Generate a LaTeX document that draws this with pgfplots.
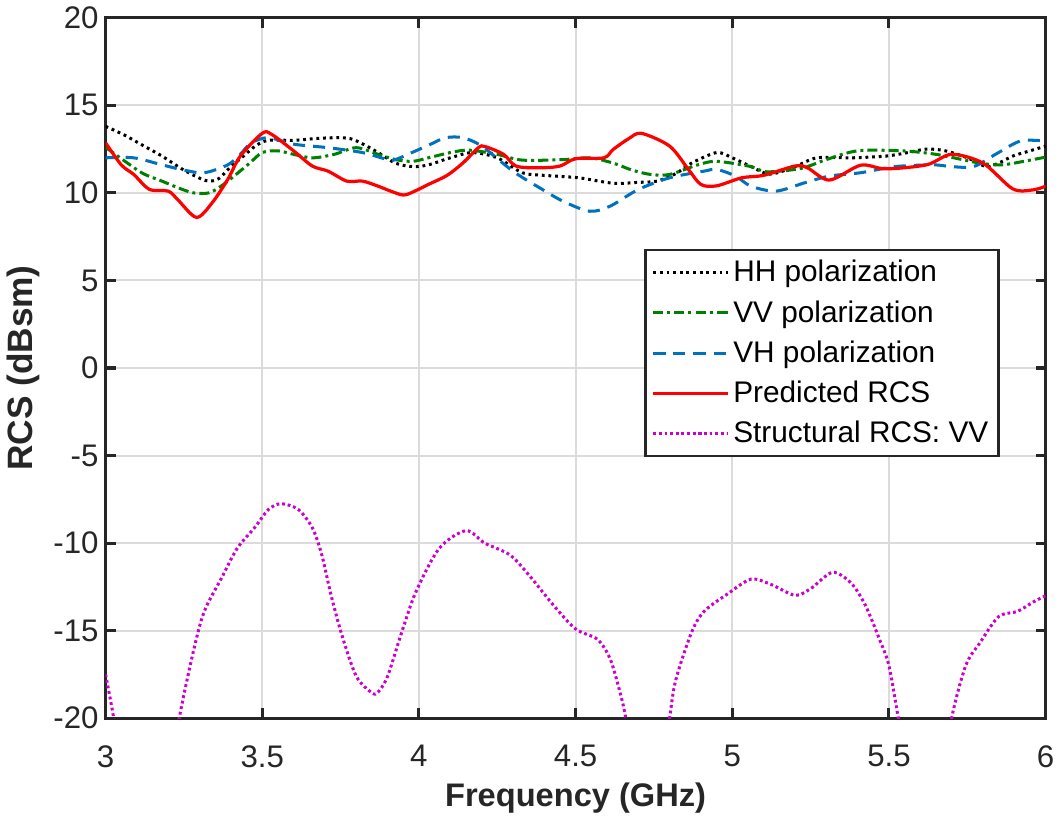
\documentclass[border=0pt]{standalone}
\usepackage{fontspec}
\setmainfont{Liberation Sans}
\usepackage{pgfplots}
\pgfplotsset{compat=1.18}
\definecolor{axgray}{rgb}{0.15,0.15,0.15}
\definecolor{cHH}{rgb}{0,0,0}
\definecolor{cVV}{rgb}{0,0.5,0}
\definecolor{cVH}{rgb}{0,0.447,0.741}
\definecolor{cPred}{rgb}{1,0,0}
\definecolor{cStr}{rgb}{0.8,0,0.8}

\begin{document}
\begin{tikzpicture}
\begin{axis}[
    scale only axis, width=467pt, height=348pt,
    xmin=3, xmax=6, ymin=-20, ymax=20,
    xtick={3,3.5,...,6}, ytick={-20,-15,...,20},
    grid=major, grid style={line width=1pt, color=black!14},
    axis line style={line width=1.5pt, axgray},
    tick style={line width=1.5pt, axgray},
    tick align=inside, major tick length=5pt,
    ticklabel style={font=\fontsize{15.5}{18}\selectfont, text=axgray},
    every x tick label/.append style={yshift=-10pt},
    /pgf/number format/assume math mode=true,
    xlabel={\textbf{Frequency (GHz)}},
    ylabel={\textbf{RCS (dBsm)}},
    xlabel style={font=\fontsize{16.2}{19}\selectfont, text=axgray, yshift=-0.5pt},
    ylabel style={font=\fontsize{17.5}{21}\selectfont, text=axgray},
    legend image code/.code={\draw[mark repeat=2,mark phase=2,#1] plot coordinates {(0cm,0cm) (0.65cm,0cm) (1.3cm,0cm)};},
    legend style={at={(rel axis cs:0.951,0.670)}, anchor=north east,
        draw=axgray, line width=1.2pt, fill=white,
        font=\fontsize{14.8}{17}\selectfont, row sep=3.8pt,
        inner sep=3pt},
    legend cell align=left,
]
\addplot[cHH, line width=1.5pt, dash pattern=on 1.4pt off 1.9pt, smooth] coordinates {
(3.00,13.8)(3.06,13.3)(3.12,12.7)(3.18,12.1)(3.25,11.3)(3.32,10.7)(3.36,10.8)(3.40,11.5)(3.44,12.1)(3.48,12.7)(3.52,13.0)(3.60,13.0)(3.67,13.1)(3.73,13.15)(3.78,13.1)(3.82,12.8)(3.87,12.3)(3.925,11.7)(3.98,11.5)(4.03,11.6)(4.10,12.0)(4.17,12.3)(4.25,12.0)(4.33,11.15)(4.40,11.0)(4.51,10.86)(4.62,10.55)(4.70,10.6)(4.76,10.67)(4.82,11.1)(4.87,11.7)(4.95,12.3)(5.00,12.0)(5.06,11.5)(5.12,11.07)(5.20,11.5)(5.27,12.0)(5.38,12.0)(5.49,12.1)(5.56,12.3)(5.62,12.5)(5.68,12.4)(5.75,12.0)(5.81,11.5)(5.85,11.7)(5.895,12.1)(5.95,12.4)(6.00,12.67)};
\addlegendentry{HH polarization}
\addplot[cVV, line width=1.5pt, dash pattern=on 5pt off 2pt on 1.5pt off 2pt, smooth] coordinates {
(3.00,12.6)(3.07,11.7)(3.12,11.1)(3.18,10.67)(3.23,10.3)(3.28,10.0)(3.33,10.0)(3.37,10.4)(3.41,10.96)(3.46,11.7)(3.50,12.3)(3.55,12.4)(3.60,12.2)(3.66,12.0)(3.73,12.2)(3.80,12.58)(3.87,12.2)(3.925,11.9)(3.98,11.8)(4.03,12.0)(4.10,12.3)(4.16,12.44)(4.25,12.2)(4.33,11.87)(4.46,11.9)(4.545,12.0)(4.62,11.7)(4.68,11.3)(4.74,11.05)(4.80,11.05)(4.89,11.6)(4.95,11.8)(5.06,11.5)(5.11,11.2)(5.22,11.4)(5.30,11.9)(5.40,12.4)(5.54,12.4)(5.65,12.2)(5.79,11.7)(5.86,11.6)(5.93,11.8)(6.00,12.04)};
\addlegendentry{VV polarization}
\addplot[cVH, line width=1.5pt, dash pattern=on 6pt off 4pt, smooth] coordinates {
(3.00,12.0)(3.09,12.0)(3.18,11.6)(3.25,11.3)(3.315,11.15)(3.39,11.6)(3.43,12.2)(3.465,12.86)(3.52,13.15)(3.60,12.78)(3.71,12.58)(3.82,12.3)(3.90,11.9)(3.925,11.9)(3.99,12.4)(4.04,12.8)(4.085,13.15)(4.14,13.15)(4.20,12.67)(4.30,11.24)(4.385,10.29)(4.46,9.52)(4.545,8.95)(4.61,9.24)(4.70,10.19)(4.80,10.86)(4.91,11.24)(4.95,11.34)(5.01,10.96)(5.06,10.38)(5.14,10.1)(5.23,10.57)(5.31,10.96)(5.41,11.15)(5.52,11.5)(5.64,11.6)(5.70,11.5)(5.77,11.5)(5.84,12.2)(5.92,12.96)(6.00,12.96)};
\addlegendentry{VH polarization}
\addplot[cPred, line width=1.6pt, smooth] coordinates {
(3.00,12.86)(3.05,11.6)(3.09,11.05)(3.14,10.2)(3.20,10.1)(3.23,9.62)(3.29,8.6)(3.34,9.43)(3.39,10.77)(3.43,12.1)(3.50,13.4)(3.53,13.34)(3.60,12.4)(3.66,11.53)(3.71,11.24)(3.77,10.67)(3.82,10.67)(3.87,10.38)(3.925,10.0)(3.96,9.9)(4.03,10.48)(4.09,11.0)(4.14,11.7)(4.19,12.58)(4.21,12.65)(4.27,12.2)(4.31,11.53)(4.385,11.43)(4.45,11.53)(4.50,11.95)(4.59,12.0)(4.62,12.48)(4.67,13.1)(4.71,13.4)(4.80,12.67)(4.86,11.34)(4.90,10.48)(4.95,10.4)(5.03,10.86)(5.10,11.0)(5.20,11.53)(5.24,11.43)(5.31,10.73)(5.41,11.58)(5.49,11.37)(5.62,11.6)(5.70,12.2)(5.80,11.7)(5.895,10.23)(5.96,10.17)(6.00,10.38)};
\addlegendentry{Predicted RCS}
\addplot[cStr, line width=1.5pt, dash pattern=on 1.4pt off 1.4pt, smooth] coordinates {
(3.00,-17.5)(3.026,-20)(3.05,-23)(3.13,-28)(3.21,-23)(3.235,-20)(3.28,-16.2)(3.315,-13.9)(3.37,-12.0)(3.42,-10.3)(3.475,-9.13)(3.52,-8.08)(3.56,-7.75)(3.615,-8.08)(3.66,-9.13)(3.69,-10.67)(3.72,-13.0)(3.755,-15.3)(3.80,-17.6)(3.85,-18.55)(3.87,-18.5)(3.90,-17.6)(3.945,-15.1)(3.99,-12.8)(4.065,-10.3)(4.15,-9.29)(4.21,-10.0)(4.29,-10.67)(4.35,-11.8)(4.43,-13.56)(4.50,-14.9)(4.57,-15.5)(4.61,-16.6)(4.64,-18.4)(4.66,-20)(4.68,-23)(4.73,-28)(4.78,-23)(4.80,-20)(4.82,-17.8)(4.87,-15.1)(4.91,-13.9)(4.985,-12.9)(5.06,-12.06)(5.125,-12.37)(5.20,-12.98)(5.25,-12.6)(5.32,-11.67)(5.38,-12.3)(5.425,-13.56)(5.47,-15.5)(5.50,-17.0)(5.53,-20)(5.56,-23)(5.62,-28)(5.68,-23)(5.70,-20)(5.745,-17.0)(5.79,-15.7)(5.85,-14.2)(5.91,-13.9)(5.96,-13.37)(6.00,-13.0)};
\addlegendentry{Structural RCS: VV}
\end{axis}
\end{tikzpicture}
\end{document}
